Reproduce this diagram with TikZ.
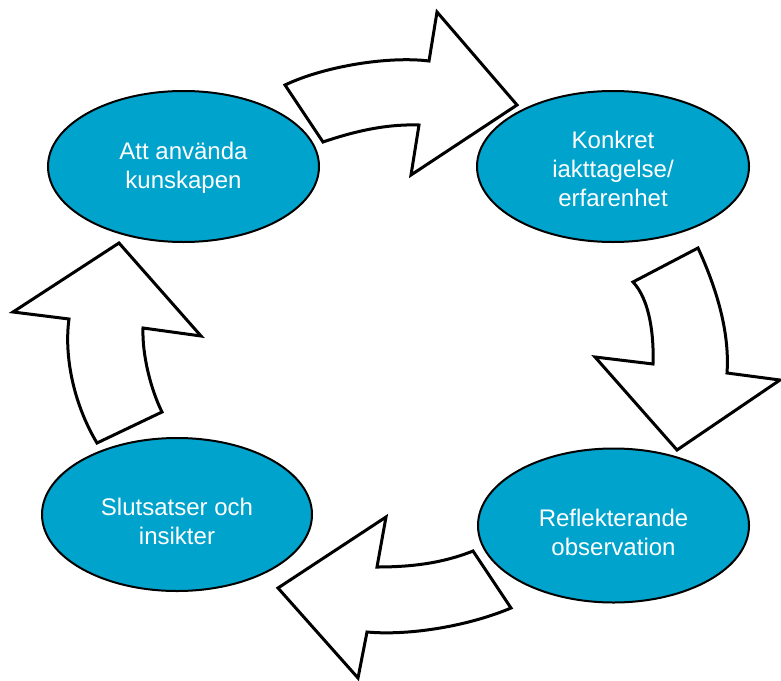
\documentclass[tikz,border=0pt]{standalone}
\usepackage{fontspec}
\setmainfont{Liberation Sans}
\usetikzlibrary{shapes.geometric}
\definecolor{ellfill}{RGB}{0,163,203}
\tikzset{
  ell/.style={ellipse, draw=black, line width=2pt, fill=ellfill, inner sep=0pt},
  txt/.style={text=white, align=center, font=\fontsize{24}{29}\selectfont},
  blockarrow/.style={draw=black, line width=3pt, fill=white, line join=miter}
}
\begin{document}
\begin{tikzpicture}[x=1pt,y=-1pt]
\useasboundingbox[fill=white] (0,0) rectangle (781,680);
% ellipses
\node[ell, minimum width=271pt, minimum height=151pt] (use) at (183.5,166.5) {};
\node[ell, minimum width=272pt, minimum height=151pt] (konk) at (613,166.5) {};
\node[ell, minimum width=271pt, minimum height=154pt] (refl) at (613.5,525.5) {};
\node[ell, minimum width=270pt, minimum height=153pt] (slut) at (177,514.5) {};
% texts
\node[txt] (tuse) at (183.5,168) {Att använda\\kunskapen};
\node[txt] (tkonk) at (613,168.5) {Konkret\\iakttagelse/\\erfarenhet};
\node[txt] (trefl) at (613.5,532.5) {Reflekterande\\observation};
\node[txt] (tslut) at (177,521) {Slutsatser och\\insikter};
% top arrow
\draw[blockarrow] (285,85) .. controls (325,66) and (389,56) .. (429,61)
  -- (437,12) -- (517,105) -- (411,175) -- (419,125)
  .. controls (389,124) and (358,130) .. (323,142) -- cycle;
% right arrow
\draw[blockarrow] (633,282) .. controls (650,300) and (654,336) .. (653,364)
  -- (595,357) -- (677,450) -- (780,380) -- (727,373)
  .. controls (730,330) and (715,285) .. (698,248) -- cycle;
% bottom arrow
\draw[blockarrow] (473,551) .. controls (443,563) and (412,567) .. (377,567)
  -- (386,517) -- (278,588) -- (358,678) -- (367,632)
  .. controls (412,636) and (471,625) .. (511,608) -- cycle;
% left arrow
\draw[blockarrow] (97,443) -- (162,412) .. controls (151,390) and (142,355) .. (143,328)
  -- (201,336) -- (119,243) -- (13,312) -- (69,319)
  .. controls (64,355) and (73,403) .. (97,443) -- cycle;
\end{tikzpicture}
\end{document}
